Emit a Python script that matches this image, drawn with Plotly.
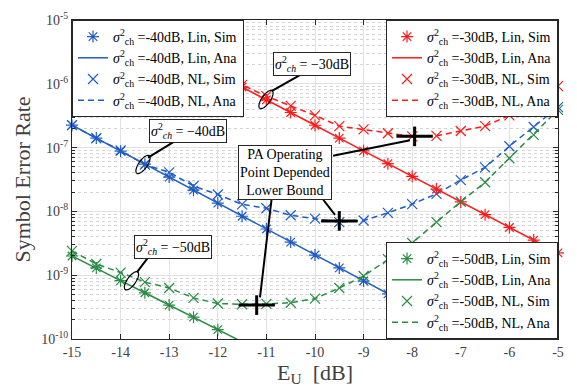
import math
import plotly.graph_objects as go

# ---------------- data ----------------
eu = [-15.0, -14.5, -14.0, -13.5, -13.0, -12.5, -12.0, -11.5, -11.0, -10.5, -10.0,
      -9.5, -9.0, -8.5, -8.0, -7.5, -7.0, -6.5, -6.0, -5.5, -5.0]
eu_red = eu[6:]          # -12 ... -5
eu_green_lin = eu[:9]    # -15 ... -11

ser_40_lin = [2.25e-7, 1.41e-7, 8.8e-8, 5.5e-8, 3.45e-8, 2.15e-8, 1.35e-8, 8.4e-9, 5.3e-9, 3.3e-9,
              2.07e-9, 1.3e-9, 8.1e-10, 5.1e-10, 3.2e-10, 2.0e-10, 1.25e-10, 7.8e-11, 4.9e-11, 3.1e-11, 1.9e-11]
ser_40_nl = [2.25e-7, 1.4e-7, 9.0e-8, 5.4e-8, 4.1e-8, 2.5e-8, 1.84e-8, 1.29e-8, 1.12e-8, 8.7e-9,
             7.7e-9, 6.8e-9, 7.2e-9, 9.5e-9, 1.3e-8, 1.88e-8, 3.1e-8, 4.9e-8, 1.05e-7, 2.1e-7, 4.3e-7]
ser_30_lin = [1.4e-6, 8.9e-7, 5.6e-7, 3.55e-7, 2.24e-7, 1.41e-7, 8.9e-8, 5.6e-8, 3.55e-8, 2.24e-8,
              1.41e-8, 8.9e-9, 5.6e-9, 3.55e-9, 2.24e-9]
ser_30_nl = [1.45e-6, 9.6e-7, 6.4e-7, 4.5e-7, 3.2e-7, 2.17e-7, 1.93e-7, 1.68e-7, 1.5e-7, 1.53e-7,
             1.82e-7, 2.17e-7, 3.2e-7, 5.4e-7, 9.2e-7]
ser_50_lin = [2.0e-9, 1.3e-9, 8.2e-10, 5.3e-10, 3.4e-10, 2.2e-10, 1.4e-10, 9.0e-11, 5.8e-11]
ser_50_nl = [2.4e-9, 1.5e-9, 1.1e-9, 7.8e-10, 6.3e-10, 4.4e-10, 3.6e-10, 3.5e-10, 3.55e-10, 3.7e-10,
             4.3e-10, 6.3e-10, 9.7e-10, 1.79e-9, 3.2e-9, 6.8e-9, 1.42e-8, 2.86e-8, 6.8e-8, 1.58e-7, 3.9e-7]

# PA operating-point dependent lower bounds
bound_x = [-11.2, -9.5, -7.95]
bound_y = [3.4e-10, 7.1e-9, 1.5e-7]

x_ticks = [-15, -14, -13, -12, -11, -10, -9, -8, -7, -6, -5]
x_ticktext = ["-15", "-14", "-13", "-12", "-11", "-10", "-9", "-8", "-7", "-6", "-5"]
y_ticks = [1e-10, 1e-9, 1e-8, 1e-7, 1e-6, 1e-5]
y_ticktext = ["10<sup>-10</sup>", "10<sup>-9</sup>", "10<sup>-8</sup>", "10<sup>-7</sup>",
              "10<sup>-6</sup>", "10<sup>-5</sup>"]
y_minor = [m * 10.0 ** e for e in range(-10, -5) for m in range(2, 10)]

# ---------------- styling ----------------
W, H = 577, 392
ML, MR, MT, MB = 72, 19, 10, 53
PW, PH = W - ML - MR, H - MT - MB

BLUE = "#1f5cc4"
RED = "#ff1a1a"
GREEN = "#2a8c45"
FONT = "Liberation Serif"
AXC = "#262626"

fig = go.Figure()


def lbl(db, kind):
    return "<i>σ</i><sup>2</sup><sub>ch</sub> =-%ddB, %s" % (db, kind)


def add_group(db, color, x_lin, y_lin, x_nl, y_nl, legend):
    fig.add_trace(go.Scatter(x=x_lin, y=y_lin, mode="markers", name=lbl(db, "Lin, Sim"), legend=legend,
                             cliponaxis=False,
                             marker=dict(symbol="asterisk-open", size=10, color=color,
                                         line=dict(color=color, width=1.2))))
    fig.add_trace(go.Scatter(x=x_lin, y=y_lin, mode="lines", name=lbl(db, "Lin, Ana"), legend=legend,
                             line=dict(color=color, width=1.5)))
    fig.add_trace(go.Scatter(x=x_nl, y=y_nl, mode="markers", name=lbl(db, "NL, Sim"), legend=legend,
                             cliponaxis=False,
                             marker=dict(symbol="x-thin-open", size=10, color=color,
                                         line=dict(color=color, width=1.2))))
    fig.add_trace(go.Scatter(x=x_nl, y=y_nl, mode="lines", name=lbl(db, "NL, Ana"), legend=legend,
                             line=dict(color=color, width=1.5, dash="6px,4px")))


add_group(40, BLUE, eu, ser_40_lin, eu, ser_40_nl, "legend")
add_group(30, RED, eu_red, ser_30_lin, eu_red, ser_30_nl, "legend2")
add_group(50, GREEN, eu_green_lin, ser_50_lin, eu, ser_50_nl, "legend3")

# lower bound crosses
fig.add_trace(go.Scatter(x=bound_x, y=bound_y, mode="markers", showlegend=False, cliponaxis=False,
                         marker=dict(symbol="line-ew", size=26, color="black",
                                     line=dict(color="black", width=3))))
fig.add_trace(go.Scatter(x=bound_x, y=bound_y, mode="markers", showlegend=False, cliponaxis=False,
                         marker=dict(symbol="line-ns", size=14, color="black",
                                     line=dict(color="black", width=3))))


# ---------------- annotations (figure-pixel positions -> paper) ----------------
def px2p(px, py):
    return (px - ML) / PW, (MT + PH - py) / PH


shapes = []


def leader(p0, p1):
    x0, y0 = px2p(*p0)
    x1, y1 = px2p(*p1)
    shapes.append(dict(type="line", xref="paper", yref="paper", x0=x0, y0=y0, x1=x1, y1=y1,
                       line=dict(color="black", width=2), layer="above"))


def ellipse(c, a=11.0, b=4.3, tilt_deg=34.0):
    t = math.radians(tilt_deg)
    ux, uy = math.sin(t), math.cos(t)
    vx, vy = -uy, ux
    pts = []
    for k in range(41):
        th = 2 * math.pi * k / 40
        ox = a * math.cos(th) * ux + b * math.sin(th) * vx
        oy = a * math.cos(th) * uy + b * math.sin(th) * vy
        xp, yp = px2p(c[0] + ox, c[1] - oy)
        pts.append("%.5f,%.5f" % (xp, yp))
    path = "M" + " L".join(pts) + " Z"
    shapes.append(dict(type="path", xref="paper", yref="paper", path=path,
                       line=dict(color="black", width=1.2), layer="above"))


annotations = []


def box(center, text):
    xp, yp = px2p(*center)
    annotations.append(dict(xref="paper", yref="paper", x=xp, y=yp, xanchor="center", yanchor="middle",
                            text=text, showarrow=False,
                            font=dict(family=FONT, size=14, color="black"), bgcolor="white",
                            bordercolor="#262626", borderwidth=1, borderpad=1, align="center"))


sig = "<i>σ</i><sup>2</sup><sub><i>ch</i></sub> = −%ddB"
# -30 dB
leader((303, 65), (272, 83)); ellipse((266, 92)); box((312, 55), sig % 30)
# -40 dB
leader((175, 135), (148, 152)); ellipse((143, 159)); box((187.5, 124), sig % 40)
# -50 dB
leader((148, 255), (137, 270)); ellipse((131.5, 279)); box((172.5, 244), sig % 50)
# PA operating point box
leader((333, 150), (410, 134))
leader((320, 191), (335, 211))
leader((272, 191), (260, 296))
box((285, 167), "PA Operating<br>Point Depended<br>Lower Bound")

leg_common = dict(bgcolor="white", bordercolor="#262626", borderwidth=1,
                  font=dict(family=FONT, size=14, color="black"), tracegroupgap=0, itemwidth=30)

fig.update_layout(
    width=W, height=H,
    margin=dict(l=ML, r=MR, t=MT, b=MB),
    paper_bgcolor="white", plot_bgcolor="white",
    font=dict(family=FONT, color=AXC),
    shapes=shapes, annotations=annotations,
    legend=dict(x=0, y=1, xanchor="left", yanchor="top", **leg_common),
    legend2=dict(x=1, y=1, xanchor="right", yanchor="top", **leg_common),
    legend3=dict(x=1, y=0, xanchor="right", yanchor="bottom", **leg_common),
    xaxis=dict(range=[-15, -5], tickmode="array", tickvals=x_ticks, ticktext=x_ticktext,
               ticks="inside", ticklen=5, tickcolor=AXC, showline=True, linecolor=AXC, linewidth=1,
               mirror="ticks", showgrid=True, gridcolor="#e2e2e2", zeroline=False,
               tickfont=dict(family=FONT, size=14, color="#404040"),
               title=dict(text="E<sub>U</sub>  [dB]", font=dict(family=FONT, size=22, color="#404040"),
                          standoff=4)),
    yaxis=dict(type="log", range=[-10, -5], tickmode="array", tickvals=y_ticks, ticktext=y_ticktext,
               ticks="inside", ticklen=5, tickcolor=AXC, showline=True, linecolor=AXC, linewidth=1,
               mirror="ticks", showgrid=True, gridcolor="#e2e2e2", zeroline=False,
               tickfont=dict(family=FONT, size=14, color="#404040"),
               minor=dict(tickmode="array", tickvals=y_minor, ticks="inside", ticklen=3, tickcolor=AXC,
                          showgrid=True, gridcolor="#d4d4d4", griddash="dot"),
               title=dict(text="Symbol Error Rate", font=dict(family=FONT, size=22, color="#404040"),
                          standoff=4)),
)

fig.write_html("out.html")
